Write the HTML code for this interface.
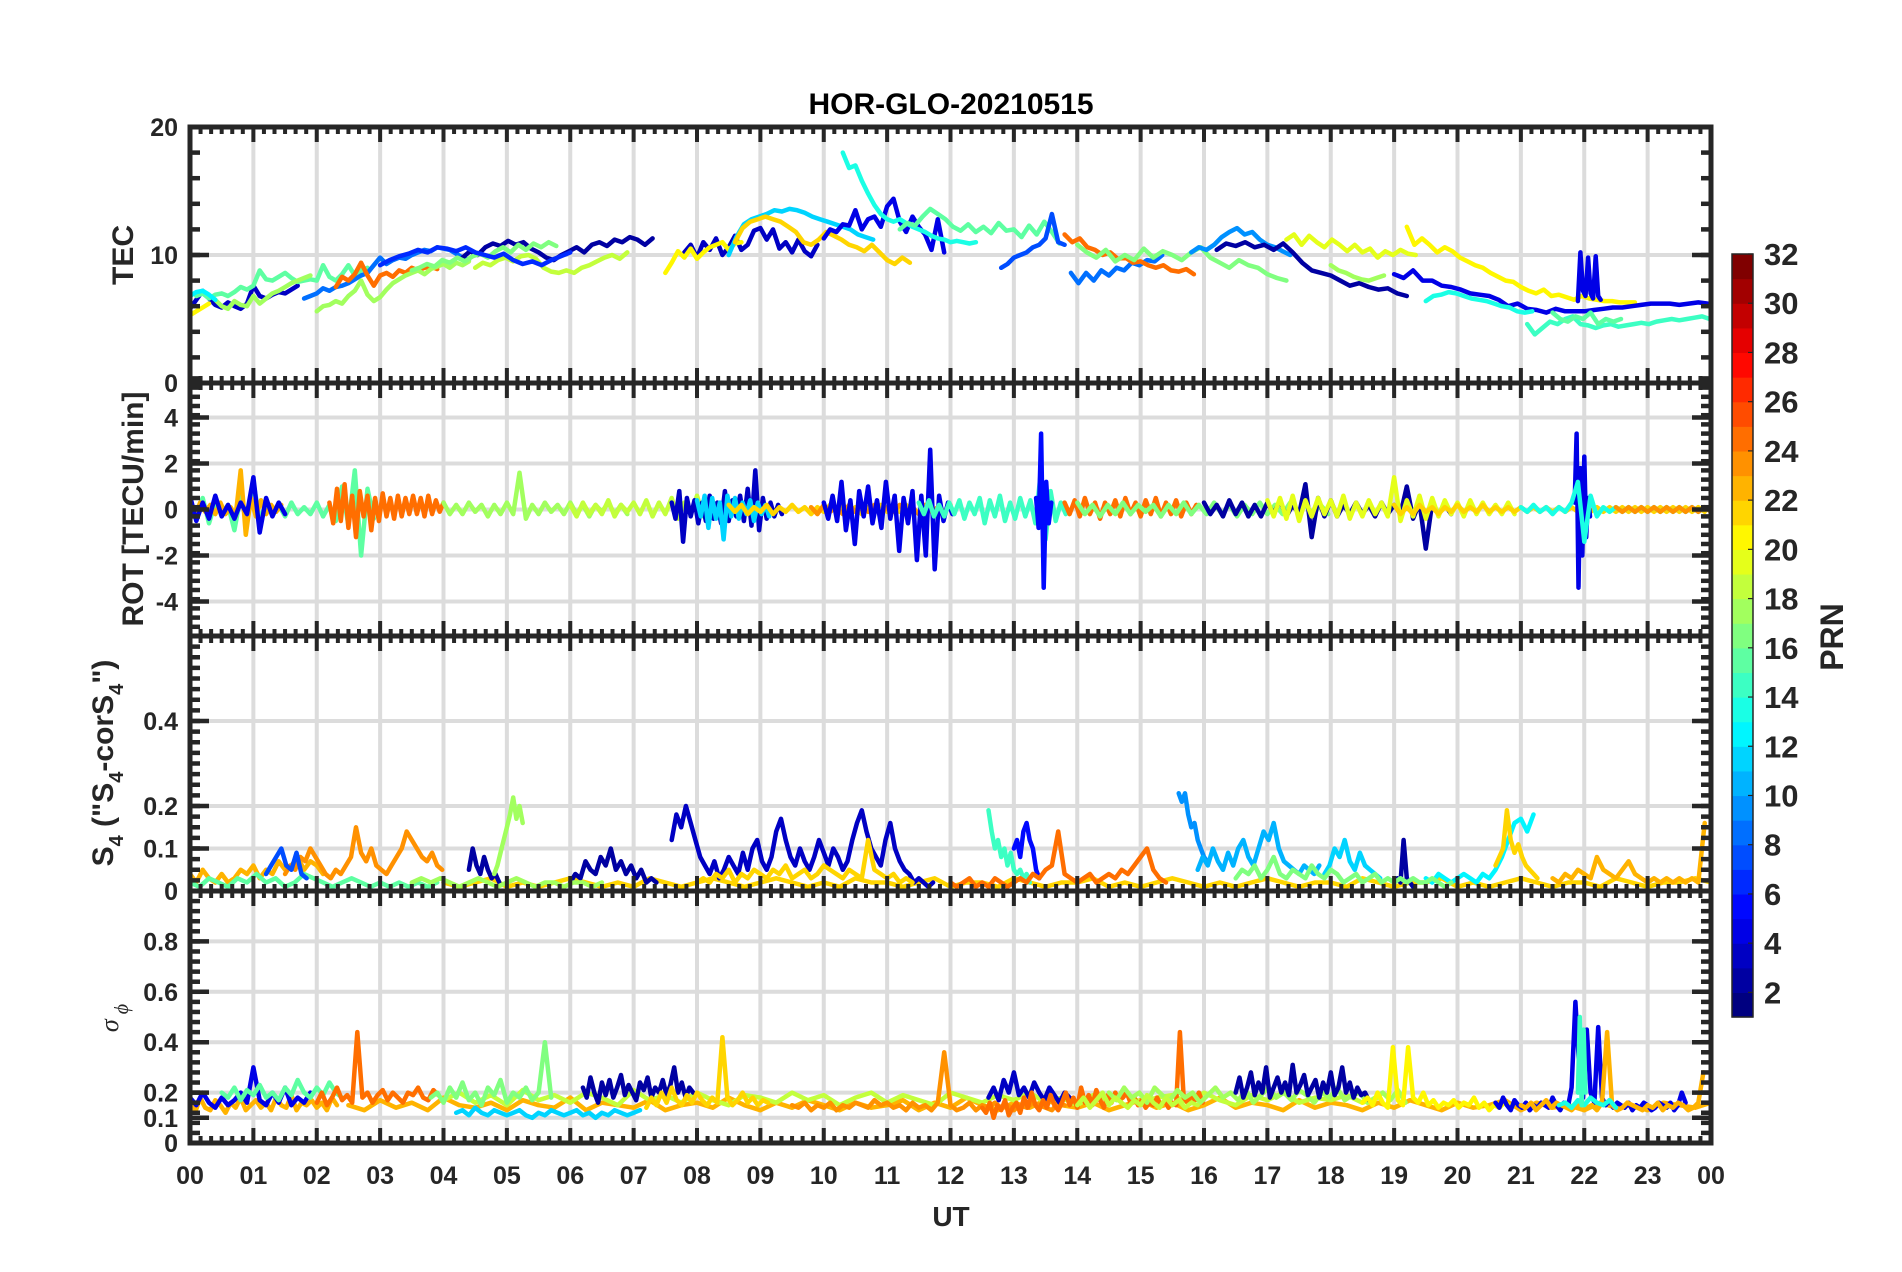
<!DOCTYPE html>
<html><head><meta charset="utf-8"><style>
html,body{margin:0;padding:0;background:#fff;}
svg{display:block;font-family:"Liberation Sans",Arial,sans-serif;}
</style></head><body>
<svg id="chart" width="1902" height="1272" viewBox="0 0 1902 1272" xmlns="http://www.w3.org/2000/svg">
<rect x="0" y="0" width="1902" height="1272" fill="#fff"/>
<text x="951" y="114" text-anchor="middle" font-size="30" font-weight="bold" fill="#000">HOR-GLO-20210515</text>
<g id="panels"></g>
<g id="cbar"></g>
<text x="951" y="1226" text-anchor="middle" font-size="28" font-weight="bold" fill="#262626">UT</text>
<text transform="translate(133,255) rotate(-90)" text-anchor="middle" font-size="30" font-weight="bold" fill="#262626">TEC</text>
<text transform="translate(143,509) rotate(-90)" text-anchor="middle" font-size="30" font-weight="bold" fill="#262626">ROT [TECU/min]</text>
<text transform="translate(113,763) rotate(-90)" text-anchor="middle" font-size="30" font-weight="bold" fill="#262626">S<tspan font-size="20" dy="10">4</tspan><tspan dy="-10"> ("S</tspan><tspan font-size="20" dy="10">4</tspan><tspan dy="-10">-corS</tspan><tspan font-size="20" dy="10">4</tspan><tspan dy="-10">")</tspan></text>
<text transform="translate(118,1018) rotate(-90)" text-anchor="middle" font-size="26" font-style="italic" fill="#262626" font-family="Liberation Serif, serif">σ<tspan font-size="20" dy="10"> ϕ</tspan></text>
<text transform="translate(1843,637) rotate(-90)" text-anchor="middle" font-size="32" font-weight="bold" fill="#262626">PRN</text>
</svg>
<script>
// ---------- TEC data ----------
const tecPrn = [3,15,17,20,12,8,24,17,2,16,18,6,3,20,11,21,4,13,15,7,8,24,16,9,2,19,20,4,13,14,17,4,15];
const tecStart = [0,0.1,0.4,0,0,1.8,2.3,2.0,4.3,3.5,4.5,3.0,7.8,7.5,8.5,8.6,10.0,10.3,11.2,12.8,13.9,13.8,14.0,15.8,16.2,17.3,19.2,19.0,19.5,21.1,18.0,21.9,21.5];
const tecStep = [0.1,0.1,0.1,0.1,0.1,0.1,0.1,0.1,0.12,0.12,0.12,0.15,0.1,0.1,0.12,0.12,0.1,0.1,0.12,0.1,0.12,0.12,0.15,0.12,0.15,0.12,0.12,0.15,0.12,0.12,0.12,0.04,0.12];
const tecValues = [
[5.8,6.5,7.2,6.6,6.1,5.9,6.3,6.0,5.8,6.2,7.6,6.8,6.6,6.9,7.1,7.0,7.3,7.6],
[6.8,7.0,6.6,6.9,7.0,6.8,7.1,7.5,7.3,7.6,8.8,8.1,8.0,8.3,8.6,8.2,7.9,8.0,8.1,8.0,9.2,8.3,8.0,8.5,9.2,8.4,8.8,9.0],
[6.5,6.0,5.8,6.4,6.1,6.0,6.8,6.2,6.6,7.0,7.2,7.5,7.8,8.0,8.2,8.4],
[5.3,5.6,5.9,6.2],
[6.8,7.1,7.2,6.9,6.5],
[6.6,6.8,7.0,7.4,7.2,7.5,7.6,7.8,8.1,8.4,8.6,9.2,9.8,9.3,9.6,9.8,9.7,10.0,10.2,10.4,10.3,10.6,10.5,10.4,10.1,9.8,9.6],
[7.5,8.3,8.0,8.5,9.4,8.4,7.6,8.4,8.6,8.3,8.8,8.6,9.0,8.8,9.0,9.1,8.9],
[5.6,6.0,6.1,6.4,6.2,6.8,7.2,8.0,6.9,6.4,6.7,7.3,7.8,8.1,8.4,8.6,8.8,8.5,8.9,9.1,9.3,9.0,9.4,9.2,9.5],
[9.8,10.3,10.0,10.6,10.9,10.7,11.1,10.8,11.0,10.5,10.2,9.8,9.6,10.0,10.3,10.6,10.2,10.8,11.0,10.7,11.2,11.0,11.4,11.2,10.8,11.3],
[8.8,9.0,9.3,9.1,9.6,9.4,9.8,9.5,9.9,10.1,9.8,10.3,10.6,10.2,10.8,10.4,10.9,10.6,11.0,10.7],
[9.0,9.4,9.2,9.6,9.8,9.5,9.9,10.0,9.7,9.0,8.7,8.6,8.8,8.6,9.0,9.2,9.5,9.8,10.0,9.7,10.2],
[9.2,9.6,9.9,10.1,10.4,10.2,10.6,10.5,10.3,10.6,10.2,10.0,9.8,10.1,9.6,9.3,9.5,9.2,9.6,9.9,10.2],
[10.2,10.8,9.8,11.0,10.4,11.3,10.0,10.6,11.5,10.4,10.8,11.9,12.1,11.2,12.0,10.5,11.0,10.2,11.2,10.3,9.9,10.8],
[8.6,9.4,10.3,9.8,10.5,9.7,10.2,10.6,10.8,11.0,10.4,10.9,11.0],
[10.0,11.4,12.4,12.8,13.0,13.2,13.5,13.4,13.6,13.5,13.3,13.0,12.8,12.6,12.4,12.2,12.0,11.6,11.4,11.2],
[11.0,12.1,12.6,12.8,13.0,12.8,12.6,12.2,11.8,11.0,10.8,11.2,11.8,11.5,11.2,10.8,10.6,10.3,10.8,10.2,9.6,9.3,9.8,9.4],
[11.3,12.0,11.8,12.4,12.3,13.5,12.0,12.8,13.0,12.2,13.8,14.4,12.6,11.8,13.0,12.2,11.6,10.4,12.8,10.2],
[18.0,16.8,17.0,15.8,14.8,13.9,13.2,12.8,12.6,12.8,12.5,12.2,12.0,11.8,11.5,11.3,11.2,11.0,11.1,11.0,10.9,11.0],
[12.0,12.5,12.3,13.0,13.6,13.2,12.8,12.2,11.9,12.4,11.8,12.2,11.7,12.5,11.9,12.0,11.4,12.3,11.6,12.6,11.8,10.9],
[9.0,9.3,9.8,10.0,10.2,10.6,10.8,11.3,13.2,11.0,10.8],
[8.6,7.8,8.6,8.0,8.8,8.4,9.0,8.8,9.4,9.2,9.6,9.5,10.0],
[11.6,11.0,11.3,10.6,10.4,10.0,10.2,9.7,9.8,9.4,9.5,9.2,9.0,9.2,8.8,8.7,8.9,8.5],
[10.8,10.2,9.8,10.4,9.5,10.0,9.6,10.5,9.8,10.3,10.0,9.6,10.2,10.6,9.8,9.4,9.0,9.6,9.2,9.0,8.5,8.2,8.0],
[10.2,10.6,10.4,10.8,11.4,11.8,12.1,11.6,11.8,11.2,10.8,10.6,10.3,10.0],
[10.4,10.9,10.7,11.0,10.6,10.8,10.4,10.9,10.2,9.4,8.8,8.6,8.4,8.0,7.6,7.8,7.5,7.3,7.4,7.0,6.8],
[11.2,11.6,10.8,11.5,11.0,10.6,11.2,10.8,10.3,10.8,10.2,10.5,9.8,10.3,10.0,10.4,10.1,10.0],
[12.2,10.8,11.3,10.8,10.2,10.6,10.3,9.8,9.5,9.2,9.0,8.6,8.3,8.0,7.9,7.5,7.2,7.0,7.3,6.8,6.9,6.7,6.5,6.8,6.6,6.5,6.4,6.4,6.3,6.3,6.3],
[8.5,8.2,8.8,8.0,8.0,7.6,7.5,7.3,7.0,6.9,6.8,6.5,6.0,6.2,5.8,5.7,5.5,5.8,5.6,5.6,5.6,5.7,5.8,5.9,5.9,6.0,6.1,6.2,6.2,6.2,6.1,6.2,6.3,6.2],
[6.4,6.8,6.9,7.1,7.0,6.8,6.6,6.5,6.4,6.2,6.0,5.9,5.6,5.5,5.6],
[4.6,3.8,4.3,4.8,4.6,5.0,5.2,4.6,4.5,4.3,4.5,4.6,4.4,4.5,4.6,4.7,4.6,4.8,4.9,5.0,4.9,5.0,5.1,5.2,5.0],
[9.2,8.8,8.6,8.3,8.1,8.0,8.2,8.4],
[6.4,10.2,7.2,6.8,9.8,7.0,6.6,9.9,6.8,6.5],
[5.5,5.0,4.8,5.2,5.0,5.5,4.6,5.0,4.8,5.0]
];
// ---------- ROT data ----------
const rotPrn = [15,22,4,24,17,18,3,11,21,23,4,14,5,24,16,2,19,21,4,13,23];
const rotStart = [0,0,0,2.2,4.0,6.0,7.6,8.0,8.5,9.8,10.0,11.5,13.35,13.8,14.0,16.0,17.0,19.0,21.85,21.0,22.5];
const rotStep = [0.1,0.08,0.1,0.06,0.1,0.1,0.06,0.06,0.1,0.1,0.07,0.08,0.04,0.08,0.12,0.1,0.1,0.1,0.03,0.1,0.1];
const rotValues = [
[0.4,-0.3,0.5,-0.6,0.3,-0.2,0.2,-0.9,0.6,-0.4,1.2,-0.5,0.3,-0.2,0.2,-0.3,0.3,-0.2,0.1,-0.2,0.3,-0.3,0.2,-0.5,1.0,-0.7,1.7,-2.0,0.9,-0.4],
[0.2,-0.3,0.3,-0.1,0.2,-0.2,0.3,-0.2,0.1,-0.3,1.7,-1.1,0.5,-0.3,0.4,-0.2,0.2,-0.1,0.2],
[0.6,-0.5,0.3,-0.4,0.6,-0.3,0.2,-0.4,0.3,-0.2,1.4,-1.0,0.5,-0.3,0.3,-0.2],
[0.3,-0.6,0.9,-0.5,1.1,-0.8,0.6,-1.2,0.8,-0.3,0.6,-0.9,0.5,-0.5,0.7,-0.3,0.5,-0.4,0.6,-0.3,0.5,-0.2,0.6,-0.2,0.5,-0.3,0.6,-0.2,0.4,-0.1,0.3],
[0.3,-0.2,0.2,-0.2,0.3,-0.1,0.2,-0.3,0.2,-0.2,0.3,-0.2,1.6,-0.4,0.2,-0.2,0.3,-0.1,0.2,-0.2,0.3,-0.2,0.2,-0.3,0.2,-0.1,0.3,-0.2,0.2,-0.2],
[0.2,-0.3,0.3,-0.2,0.2,-0.2,0.4,-0.3,0.2,-0.1,0.3,-0.2,0.4,-0.3,0.3,-0.2,0.5,-0.4,0.3,-0.2,0.6,-0.3,0.4,-0.3,0.2,-0.2,0.3,-0.2,0.2,-0.2],
[0.3,-0.4,0.8,-1.4,0.5,-0.3,0.4,-0.6,0.3,-0.5,0.6,-0.4,0.3,-0.6,0.8,-0.5,0.4,-0.3,0.6,-0.5,0.9,-0.7,1.7,-0.9,0.5,-0.4,0.3,-0.3,0.2,-0.2],
[0.4,-0.3,0.6,-0.8,0.5,-0.4,0.3,-1.3,0.6,-0.3,0.5,-0.4,0.3,-0.2,0.4,-0.5,0.3,-0.2,0.2,-0.3],
[0.2,-0.1,0.2,-0.2,0.1,-0.1,0.2,-0.2,0.1,-0.1,0.2,-0.1,0.1,-0.2,0.1,-0.1,0.2,-0.1,0.2,-0.1,0.1,-0.2,0.1,-0.1,0.2,-0.1,0.1,-0.1,0.2,-0.1],
[0.1,-0.2,0.2,-0.1,0.1,-0.2,0.2,-0.1,0.1,-0.1,0.2,-0.2,0.1,-0.1,0.2,-0.1,0.1,-0.2,0.2,-0.1,0.1,-0.1,0.2],
[0.3,-0.4,0.6,-0.5,1.2,-0.9,0.4,-1.5,0.8,-0.3,1.0,-0.6,0.4,-0.8,1.2,-0.4,0.6,-1.8,0.5,-0.6,0.8,-2.2,0.6,-2.0,2.6,-2.6,0.6,-0.5,0.3,-0.2],
[0.3,-0.2,0.4,-0.3,0.2,-0.3,0.3,-0.2,0.4,-0.4,0.3,-0.2,0.5,-0.6,0.4,-0.3,0.6,-0.5,0.3,-0.4,0.5,-0.3,0.4,-0.6,1.5,-1.3,0.8,-0.5,0.3,-0.2],
[0.5,-0.8,3.3,-3.4,1.2,-0.6,0.3],
[0.3,-0.2,0.4,-0.3,0.5,-0.2,0.3,-0.4,0.3,-0.2,0.4,-0.3,0.5,-0.2,0.3,-0.3,0.4,-0.2,0.5,-0.3,0.3,-0.2,0.4,-0.3,0.3,-0.2,0.2],
[0.3,-0.2,0.2,-0.3,0.2,-0.2,0.3,-0.2,0.2,-0.1,0.2,-0.3,0.2,-0.2,0.3,-0.2,0.2,-0.2,0.3,-0.2,0.2,-0.3,0.2,-0.2,0.3,-0.2,0.2,-0.2,0.3,-0.1,0.2,-0.2,0.2,-0.2],
[0.3,-0.2,0.2,-0.3,0.4,-0.2,0.3,-0.3,0.2,-0.3,0.3,-0.2,0.4,-0.3,0.2,-0.2,1.1,-1.2,0.5,-0.3,0.4,-0.3,0.2,-0.2,0.3,-0.2,0.2,-0.3,0.3,-0.2,0.2,-0.2,1.0,-0.4,0.3,-1.7,0.3,-0.2,0.2,-0.2],
[0.4,-0.3,0.5,-0.4,0.6,-0.5,0.4,-0.3,0.5,-0.2,0.4,-0.3,0.6,-0.4,0.3,-0.3,0.4,-0.2,0.3,-0.3,1.4,-0.5,0.4,-0.3,0.6,-0.4,0.5,-0.3,0.4,-0.2,0.3,-0.3,0.4,-0.2,0.3,-0.2,0.2,-0.2,0.3,-0.2],
[0.2,-0.2,0.1,-0.2,0.2,-0.1,0.1,-0.2,0.1,-0.1,0.2,-0.1,0.1,-0.1,0.2,-0.1,0.1,-0.1,0.1,-0.1,0.1,-0.1,0.1,-0.1,0.1,-0.1,0.1,-0.1,0.1,-0.1,0.1,-0.1,0.1,-0.1,0.1,-0.1,0.1,-0.1,0.1,-0.1,0.1,-0.1,0.1,-0.1,0.1,-0.1,0.1,-0.1,0.1,-0.1],
[0.3,3.3,-3.4,1.8,-2.0,2.3,-1.2,0.5,-0.3],
[0.1,-0.1,0.2,-0.1,0.1,-0.2,0.1,-0.1,0.3,1.2,-1.4,0.6,-0.3,0.1,-0.1,0.1,-0.1,0.1,-0.1,0.1,-0.1,0.1,-0.1,0.1,-0.1,0.1,-0.1,0.1,-0.1,0.1],
[0.1,-0.1,0.1,-0.1,0.1,-0.1,0.1,-0.1,0.1,-0.1,0.1,-0.1,0.1,-0.1,0.1,-0.1]
];
// ---------- S4 data ----------
const s4Prn = [21,22,23,15,7,2,17,2,3,21,14,5,24,9,10,11,2,12,21,22,16,17];
const s4Start = [4.0,0,1.5,0,1.2,4.4,4.8,6.0,7.6,8.0,12.6,13.0,12.0,15.6,15.9,17.9,19.0,19.5,20.6,21.5,16.5,3.5];
const s4Step = [0.25,0.1,0.08,0.15,0.08,0.06,0.05,0.08,0.075,0.1,0.05,0.05,0.1,0.05,0.08,0.08,0.05,0.1,0.06,0.1,0.1,0.15];
const s4Values = [
[0.02,0.01,0.02,0.03,0.01,0.02,0.01,0.02,0.03,0.02,0.01,0.02,0.01,0.03,0.02,0.01,0.02,0.03,0.02,0.01,0.02,0.03,0.02,0.01,0.02,0.01,0.03,0.02,0.02,0.01,0.02,0.03,0.01,0.02,0.02,0.01,0.03,0.02,0.01,0.02,0.02,0.03,0.01,0.02,0.01,0.02,0.03,0.02,0.01,0.02,0.01,0.02,0.03,0.02,0.01,0.02,0.02,0.01,0.03,0.02,0.01,0.02,0.02,0.03,0.01,0.02,0.01,0.02,0.03,0.02,0.01,0.02,0.02,0.01,0.03,0.02,0.01,0.02,0.02,0.03,0.02],
[0.04,0.02,0.05,0.03,0.02,0.04,0.02,0.03,0.05,0.04,0.06,0.03,0.05,0.04,0.07,0.05,0.06,0.08,0.05,0.07,0.06,0.04],
[0.04,0.06,0.05,0.08,0.07,0.1,0.08,0.06,0.04,0.03,0.05,0.04,0.06,0.08,0.15,0.09,0.07,0.1,0.06,0.05,0.04,0.06,0.08,0.1,0.14,0.12,0.1,0.08,0.07,0.09,0.06,0.05],
[0.02,0.01,0.03,0.02,0.01,0.03,0.02,0.04,0.02,0.03,0.01,0.02,0.04,0.03,0.02,0.01,0.02,0.03,0.02,0.01,0.02,0.01,0.02,0.01,0.02,0.01,0.02],
[0.04,0.06,0.08,0.1,0.06,0.05,0.09,0.04,0.03],
[0.05,0.1,0.06,0.04,0.08,0.05,0.03,0.04,0.02],
[0.04,0.06,0.09,0.12,0.15,0.18,0.22,0.17,0.2,0.16],
[0.02,0.04,0.03,0.07,0.05,0.04,0.08,0.06,0.1,0.05,0.07,0.04,0.06,0.03,0.05,0.02,0.03,0.02],
[0.12,0.18,0.15,0.2,0.16,0.12,0.08,0.06,0.04,0.07,0.03,0.05,0.08,0.06,0.04,0.09,0.05,0.1,0.12,0.07,0.05,0.08,0.14,0.17,0.12,0.08,0.06,0.1,0.07,0.05,0.08,0.12,0.09,0.06,0.1,0.08,0.05,0.07,0.12,0.16,0.19,0.14,0.1,0.08,0.06,0.12,0.16,0.1,0.07,0.05,0.04,0.02,0.03,0.02,0.01,0.02],
[0.02,0.03,0.02,0.04,0.03,0.05,0.02,0.04,0.03,0.05,0.04,0.03,0.05,0.04,0.06,0.03,0.04,0.05,0.03,0.04,0.06,0.05,0.04,0.03,0.05,0.04,0.03,0.12,0.05,0.04,0.03,0.04,0.02,0.03,0.02],
[0.19,0.14,0.1,0.12,0.08,0.1,0.06,0.09,0.05,0.04,0.05,0.03,0.04,0.02],
[0.1,0.12,0.08,0.14,0.16,0.12,0.1,0.05,0.03],
[0.02,0.01,0.02,0.03,0.01,0.02,0.01,0.03,0.02,0.01,0.02,0.03,0.02,0.04,0.03,0.05,0.06,0.14,0.04,0.03,0.02,0.03,0.04,0.02,0.03,0.04,0.03,0.05,0.04,0.06,0.08,0.1,0.05,0.03,0.02],
[0.23,0.21,0.23,0.18,0.15,0.16,0.12,0.1,0.08,0.07],
[0.05,0.08,0.06,0.1,0.07,0.05,0.09,0.06,0.1,0.12,0.08,0.06,0.1,0.14,0.12,0.16,0.1,0.07,0.06,0.05,0.04,0.06,0.05,0.04,0.06],
[0.04,0.06,0.1,0.08,0.12,0.07,0.05,0.09,0.06,0.05,0.04,0.03],
[0.02,0.03,0.02,0.12,0.03,0.02,0.01],
[0.03,0.02,0.04,0.03,0.02,0.03,0.04,0.03,0.02,0.04,0.03,0.05,0.08,0.12,0.16,0.17,0.14,0.18],
[0.06,0.08,0.1,0.19,0.12,0.09,0.11,0.08,0.06,0.05,0.04,0.03],
[0.03,0.02,0.04,0.03,0.05,0.04,0.03,0.08,0.05,0.04,0.03,0.05,0.07,0.04,0.03,0.02,0.03,0.02,0.03,0.02,0.03,0.02,0.03,0.02,0.16],
[0.03,0.05,0.04,0.06,0.03,0.05,0.08,0.04,0.03,0.05,0.04,0.03,0.06,0.04,0.03,0.05,0.04,0.02,0.03,0.04,0.02,0.03,0.04,0.02,0.03,0.02,0.03,0.02,0.03,0.02,0.02,0.03,0.02,0.01,0.02],
[0.02,0.03,0.02,0.03,0.02,0.01,0.02,0.03,0.02,0.01,0.02,0.03,0.02,0.01,0.02,0.02,0.01,0.02,0.02,0.01,0.02]
];
// ---------- sigma-phi data ----------
const spPrn = [22,18,22,4,15,24,16,11,2,21,23,3,24,17,2,20,4,22,13,18,14];
const spStart = [2.5,4.0,0,0,0.5,2.0,3.8,4.2,6.2,7.2,9.5,12.6,12.5,14.5,16.5,18.5,20.6,21.0,21.6,14.0,21.9];
const spStep = [0.25,0.25,0.08,0.1,0.1,0.08,0.1,0.1,0.06,0.08,0.1,0.08,0.06,0.12,0.06,0.08,0.06,0.08,0.1,0.1,0.03];
const spValues = [
[0.15,0.13,0.17,0.14,0.16,0.13,0.18,0.15,0.14,0.16,0.13,0.17,0.15,0.14,0.18,0.13,0.16,0.15,0.14,0.17,0.13,0.15,0.16,0.14,0.18,0.15,0.13,0.16,0.14,0.17,0.15,0.13,0.16,0.14,0.15,0.17,0.13,0.16,0.14,0.18,0.15,0.13,0.16,0.14,0.17,0.15,0.14,0.16,0.13,0.15,0.17,0.14,0.16,0.13,0.15,0.18,0.14,0.16,0.15,0.13,0.17,0.14,0.16,0.15,0.13,0.16,0.14,0.17,0.15,0.13,0.16,0.14,0.15,0.17,0.13,0.16,0.14,0.15,0.13,0.16,0.14,0.15,0.13,0.16,0.15,0.14,0.16],
[0.17,0.2,0.16,0.19,0.15,0.21,0.17,0.19,0.16,0.2,0.18,0.15,0.21,0.17,0.19,0.16,0.2,0.17,0.15,0.19,0.18,0.16,0.2,0.17,0.19,0.15,0.18,0.2,0.16,0.19,0.17,0.15,0.2,0.18,0.16,0.19,0.17,0.2,0.16,0.18,0.15,0.19,0.17,0.2,0.16,0.18,0.19,0.16,0.2,0.17,0.15,0.19,0.17,0.2,0.16,0.18,0.17,0.19,0.16,0.18],
[0.16,0.12,0.18,0.14,0.13,0.17,0.15,0.12,0.16,0.14,0.18,0.13,0.15,0.17,0.14,0.16,0.13,0.18,0.15,0.14,0.19,0.13,0.16,0.15,0.17,0.14,0.16,0.13,0.18,0.15],
[0.18,0.15,0.2,0.16,0.14,0.18,0.15,0.17,0.2,0.16,0.3,0.17,0.15,0.2,0.16,0.22,0.15,0.18,0.16,0.2],
[0.2,0.18,0.22,0.17,0.21,0.19,0.23,0.18,0.2,0.17,0.22,0.19,0.25,0.2,0.18,0.22,0.19,0.24,0.2,0.18],
[0.16,0.2,0.15,0.18,0.22,0.17,0.19,0.16,0.44,0.18,0.2,0.16,0.19,0.21,0.17,0.2,0.18,0.16,0.2,0.19,0.22,0.18,0.17,0.21,0.19],
[0.18,0.2,0.16,0.22,0.18,0.24,0.17,0.2,0.15,0.22,0.19,0.25,0.16,0.2,0.18,0.22,0.17,0.2,0.4,0.18],
[0.12,0.13,0.11,0.14,0.12,0.11,0.13,0.12,0.11,0.12,0.13,0.11,0.1,0.12,0.11,0.13,0.12,0.11,0.12,0.13,0.11,0.12,0.1,0.12,0.11,0.13,0.12,0.11,0.12,0.13],
[0.22,0.18,0.26,0.2,0.16,0.24,0.19,0.25,0.18,0.22,0.27,0.19,0.23,0.2,0.17,0.24,0.21,0.26,0.18,0.22,0.2,0.25,0.19,0.23,0.3,0.2,0.24,0.18,0.22,0.2],
[0.14,0.18,0.15,0.2,0.16,0.22,0.17,0.15,0.19,0.16,0.2,0.17,0.15,0.18,0.16,0.42,0.18,0.15,0.17,0.2,0.16,0.18,0.15,0.17,0.16],
[0.15,0.14,0.16,0.13,0.15,0.14,0.16,0.13,0.15,0.14,0.16,0.15,0.14,0.17,0.15,0.16,0.14,0.15,0.13,0.16,0.14,0.15,0.13,0.16,0.36,0.15,0.13,0.14,0.16,0.13,0.15,0.14,0.16,0.14,0.15,0.13,0.15,0.14,0.16,0.15,0.14,0.13,0.16,0.15],
[0.18,0.22,0.17,0.25,0.2,0.28,0.19,0.22,0.18,0.24,0.2,0.17,0.22,0.19,0.16,0.2,0.18],
[0.14,0.12,0.16,0.1,0.15,0.13,0.17,0.11,0.14,0.16,0.12,0.18,0.14,0.2,0.15,0.13,0.17,0.14,0.19,0.15,0.13,0.16,0.2,0.15,0.18,0.14,0.22,0.16,0.19,0.15,0.21,0.17,0.14,0.19,0.16,0.2,0.17,0.18,0.2,0.16,0.18,0.15,0.17,0.14,0.16,0.15,0.18,0.15,0.17,0.14,0.16,0.15,0.44,0.18,0.16,0.19,0.17,0.2,0.16],
[0.2,0.17,0.22,0.18,0.2,0.16,0.22,0.19,0.17,0.21,0.18,0.2,0.16,0.19,0.22,0.18,0.2,0.17,0.21,0.16,0.19,0.22,0.18,0.2,0.17,0.21,0.19,0.16,0.2,0.18,0.22,0.17,0.19,0.2,0.16,0.18,0.2,0.17,0.21,0.16],
[0.2,0.26,0.18,0.22,0.28,0.19,0.24,0.2,0.3,0.18,0.22,0.26,0.2,0.24,0.19,0.31,0.2,0.23,0.27,0.19,0.22,0.25,0.18,0.24,0.2,0.28,0.19,0.22,0.3,0.2,0.24,0.18,0.22,0.19,0.2,0.17],
[0.16,0.18,0.15,0.2,0.16,0.14,0.38,0.17,0.15,0.38,0.18,0.16,0.2,0.15,0.17,0.14,0.16,0.15,0.17,0.14,0.16,0.15,0.18,0.14,0.16,0.13,0.15,0.14,0.16,0.15],
[0.16,0.14,0.18,0.15,0.13,0.17,0.15,0.14,0.16,0.13,0.15,0.14,0.16,0.15,0.14,0.18,0.15,0.13,0.16,0.14,0.22,0.56,0.3,0.18,0.45,0.2,0.16,0.46,0.18,0.15,0.17,0.14,0.16,0.15,0.14,0.16,0.13,0.15,0.14,0.16,0.15,0.13,0.14,0.16,0.15,0.14,0.16,0.13,0.15,0.2,0.16],
[0.15,0.14,0.16,0.13,0.15,0.17,0.14,0.16,0.15,0.14,0.13,0.15,0.16,0.14,0.15,0.13,0.16,0.44,0.15,0.13,0.14,0.16,0.15,0.14,0.13,0.15,0.14,0.16,0.13,0.15,0.14,0.16,0.15,0.13,0.14,0.16,0.28],
[0.15,0.16,0.14,0.17,0.15,0.18,0.16,0.15,0.17,0.14],
[0.15,0.18,0.14,0.17,0.2,0.15,0.18,0.16,0.14,0.17,0.15,0.19,0.16,0.14,0.18,0.15,0.17,0.14,0.16,0.15],
[0.2,0.5,0.15,0.45,0.2]
];
const xTickLabels = ["00","01","02","03","04","05","06","07","08","09","10","11","12","13","14","15","16","17","18","19","20","21","22","23","00"];
const cbarLabels = [2,4,6,8,10,12,14,16,18,20,22,24,26,28,30,32];

const NS = "http://www.w3.org/2000/svg";
const X0 = 190, X1 = 1711;
const INK = "#262626";
function xScale(h){ return X0 + (X1 - X0) * h / 24; }
function mk(tag, attrs, parent){ const e = document.createElementNS(NS, tag); for (const k in attrs) e.setAttribute(k, attrs[k]); parent.appendChild(e); return e; }
function jet(prn){
  const idx = Math.max(0, Math.min(30, Math.round(prn) - 1));
  const t = idx / 30;
  const c = v => Math.round(255 * Math.max(0, Math.min(1, v)));
  return "rgb(" + c(1.5 - Math.abs(4*t - 3)) + "," + c(1.5 - Math.abs(4*t - 2)) + "," + c(1.5 - Math.abs(4*t - 1)) + ")";
}
const panelsG = document.getElementById("panels");
const panels = [
  {name:"tec", top:127, bot:383, min:0, max:20, labels:[0,10,20], grid:[10], minor:2, prn:tecPrn, start:tecStart, step:tecStep, vals:tecValues},
  {name:"rot", top:383, bot:636, min:-5.5, max:5.5, labels:[-4,-2,0,2,4], grid:[-4,-2,0,2,4], minor:0.4, prn:rotPrn, start:rotStart, step:rotStep, vals:rotValues},
  {name:"s4", top:636, bot:891, min:0, max:0.6, labels:[0,0.1,0.2,0.4], grid:[0.1,0.2,0.4], minor:0.025, prn:s4Prn, start:s4Start, step:s4Step, vals:s4Values},
  {name:"sigma-phi", top:891, bot:1143, min:0, max:1, labels:[0,0.1,0.2,0.4,0.6,0.8], grid:[0.1,0.2,0.4,0.6,0.8], minor:0.04, prn:spPrn, start:spStart, step:spStep, vals:spValues}
];
panels.forEach((p, pi) => {
  const yS = v => p.bot - (p.bot - p.top) * (v - p.min) / (p.max - p.min);
  const g = mk("g", {}, panelsG);
  
  
  const cp = mk("clipPath", {id:"clip" + pi}, g);
  mk("rect", {x:X0, y:p.top, width:X1 - X0, height:p.bot - p.top}, cp);
  for (let h = 1; h < 24; h++) {
    const gl = mk("line", {x1:xScale(h), x2:xScale(h), y1:p.top, y2:p.bot, stroke:"#dcdcdc", "stroke-width":4}, g);
    
    
  }
  p.grid.forEach(v => {
    const gl = mk("line", {x1:X0, x2:X1, y1:yS(v), y2:yS(v), stroke:"#dcdcdc", "stroke-width":4}, g);
    
    
  });
  const sg = mk("g", {"clip-path":"url(#clip" + pi + ")"}, g);
  p.vals.forEach((arr, si) => {
    const pts = arr.map((v, i) => xScale(p.start[si] + i * p.step[si]).toFixed(1) + "," + yS(v).toFixed(1)).join(" ");
    const pl = mk("polyline", {points:pts, fill:"none", stroke:jet(p.prn[si]), "stroke-width":4.5, "stroke-linejoin":"round", "stroke-linecap":"round"}, sg);
    
    
  });
  const tg = mk("g", {stroke:INK}, g);
  for (let m = 0; m <= 144; m++) {
    const x = xScale(m / 6), major = m % 6 === 0, L = major ? 15 : 7;
    mk("line", {x1:x, x2:x, y1:p.top, y2:p.top + L, "stroke-width":4}, tg);
    mk("line", {x1:x, x2:x, y1:p.bot, y2:p.bot - L, "stroke-width":4}, tg);
  }
  const nMin = Math.round((p.max - p.min) / p.minor);
  for (let k = 0; k <= nMin; k++) {
    const v = p.min + k * p.minor, y = yS(v);
    mk("line", {x1:X0, x2:X0 + 10, y1:y, y2:y, "stroke-width":4.5}, tg);
    mk("line", {x1:X1, x2:X1 - 10, y1:y, y2:y, "stroke-width":4.5}, tg);
  }
  p.labels.forEach(v => {
    const y = yS(v);
    mk("line", {x1:X0, x2:X0 + 19, y1:y, y2:y, "stroke-width":4.5}, tg);
    mk("line", {x1:X1, x2:X1 - 19, y1:y, y2:y, "stroke-width":4.5}, tg);
    const t = mk("text", {x:178, y:y + 9, "text-anchor":"end", "font-size":25, "font-weight":"bold", fill:INK}, g);
    
    
    t.textContent = String(v);
  });
  const box = mk("rect", {x:X0, y:p.top, width:X1 - X0, height:p.bot - p.top, fill:"none", stroke:INK, "stroke-width":5}, g);
  
  
});
xTickLabels.forEach((lab, i) => {
  const t = mk("text", {x:xScale(i), y:1184, "text-anchor":"middle", "font-size":25, "font-weight":"bold", fill:INK}, panelsG);
  
  
  t.textContent = lab;
});
const cb = document.getElementById("cbar");


const CBT = 254, CBB = 1017, CBX = 1732, CBW = 21;
const cbY = v => CBB - (CBB - CBT) * (v - 1) / 31;
for (let k = 1; k <= 31; k++) {
  const r = mk("rect", {x:CBX, y:cbY(k + 1), width:CBW, height:cbY(k) - cbY(k + 1) + 0.6, fill:jet(k)}, cb);
  
  
}
mk("rect", {x:CBX, y:CBT, width:CBW, height:CBB - CBT, fill:"none", stroke:INK, "stroke-width":1.5}, cb);
cbarLabels.forEach(v => {
  const y = cbY(v);
  mk("line", {x1:CBX + CBW - 5, x2:CBX + CBW, y1:y, y2:y, stroke:INK, "stroke-width":1.2}, cb);
  const t = mk("text", {x:1764, y:y + 11, "font-size":31, "font-weight":"bold", fill:INK}, cb);
  
  
  t.textContent = String(v);
});
</script>
</body></html>
